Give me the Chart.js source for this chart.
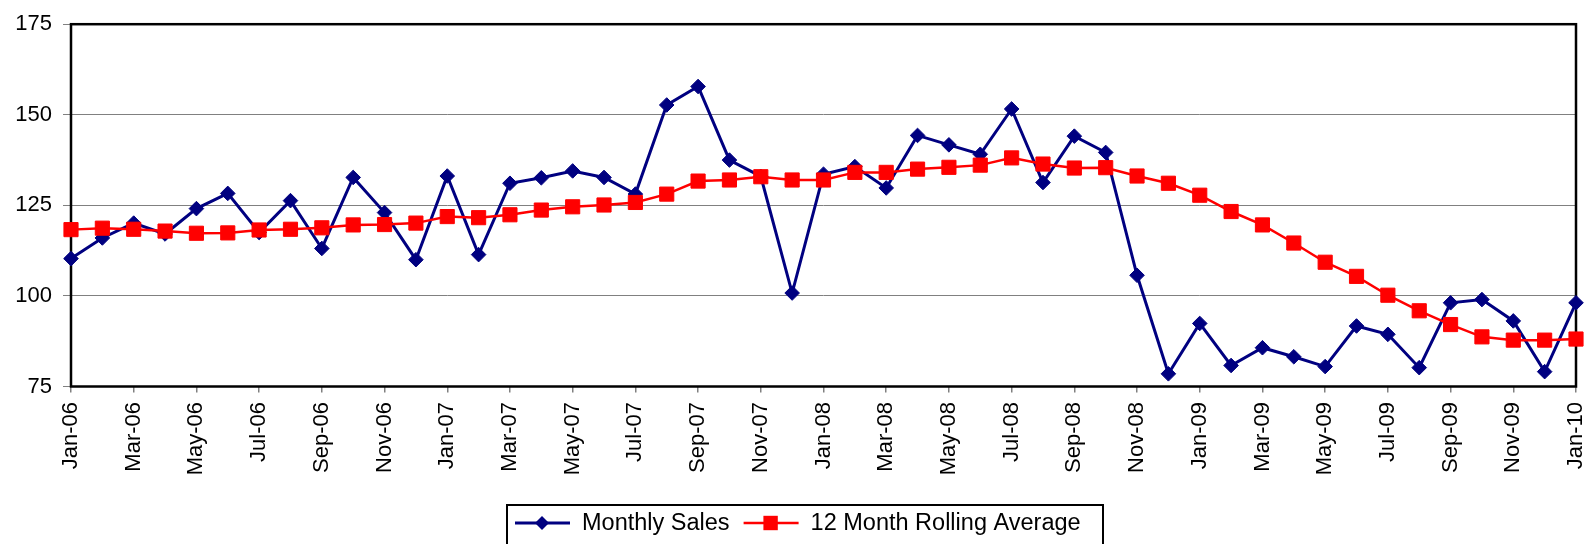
<!DOCTYPE html>
<html>
<head>
<meta charset="utf-8">
<script src="https://cdn.jsdelivr.net/npm/chart.js@4.4.0/dist/chart.umd.min.js"></script>
<style>
  html, body { margin: 0; padding: 0; background: #fff; }
  #wrap { width: 1587px; height: 544px; position: relative; }
</style>
</head>
<body>
<div id="wrap"><canvas id="salesChart"></canvas></div>
<script>
const months = [
    'Jan-06', 'Feb-06', 'Mar-06', 'Apr-06', 'May-06', 'Jun-06', 'Jul-06', 'Aug-06', 'Sep-06', 'Oct-06', 'Nov-06', 'Dec-06',
    'Jan-07', 'Feb-07', 'Mar-07', 'Apr-07', 'May-07', 'Jun-07', 'Jul-07', 'Aug-07', 'Sep-07', 'Oct-07', 'Nov-07', 'Dec-07',
    'Jan-08', 'Feb-08', 'Mar-08', 'Apr-08', 'May-08', 'Jun-08', 'Jul-08', 'Aug-08', 'Sep-08', 'Oct-08', 'Nov-08', 'Dec-08',
    'Jan-09', 'Feb-09', 'Mar-09', 'Apr-09', 'May-09', 'Jun-09', 'Jul-09', 'Aug-09', 'Sep-09', 'Oct-09', 'Nov-09', 'Dec-09',
    'Jan-10'
];

const monthlySales = [
    110.3, 116.0, 120.1, 117.1, 124.1, 128.3, 117.5, 126.3, 113.1, 132.7, 123.0, 110.0,
    133.1, 111.4, 131.1, 132.6, 134.5, 132.7, 128.1, 152.7, 157.8, 137.5, 133.0, 100.8,
    133.6, 135.7, 129.8, 144.3, 141.7, 139.1, 151.6, 131.3, 144.1, 139.6, 105.7, 78.5,
    92.4, 80.8, 85.7, 83.2, 80.5, 91.7, 89.4, 80.2, 98.1, 99.0, 93.1, 79.1,
    98.1
];

const rollingAverage = [
    118.3, 118.7, 118.4, 117.9, 117.3, 117.4, 118.2, 118.4, 118.8, 119.6, 119.7, 120.1,
    121.9, 121.6, 122.4, 123.7, 124.6, 125.1, 125.8, 128.1, 131.7, 132.0, 132.9, 132.0,
    132.0, 134.1, 134.1, 135.0, 135.5, 136.1, 138.1, 136.4, 135.3, 135.4, 133.1, 131.1,
    127.8, 123.3, 119.6, 114.6, 109.3, 105.4, 100.2, 95.9, 92.1, 88.7, 87.8, 87.8,
    88.1
];

const yTicks = [75, 100, 125, 150, 175];

const FONT = "'Liberation Sans', Arial, sans-serif";

// black frame round the plot area, drawn under the lines
const framePlugin = {
    id: 'frame',
    beforeDatasetsDraw(chart) {
        const { ctx, chartArea: a } = chart;
        ctx.save();
        ctx.strokeStyle = '#000';
        ctx.lineWidth = 2.5;
        ctx.strokeRect(a.left, a.top, a.right - a.left, a.bottom - a.top);
        ctx.restore();
    }
};

// Excel style legend: boxed, line sample with marker
const boxLegendPlugin = {
    id: 'boxLegend',
    afterDraw(chart) {
        const ctx = chart.ctx;
        const box = { left: 507, top: 505, right: 1103, bottom: 550 };
        const midY = 523;
        ctx.save();
        ctx.strokeStyle = '#000';
        ctx.lineWidth = 2;
        ctx.strokeRect(box.left, box.top, box.right - box.left, box.bottom - box.top);

        ctx.font = '23.5px ' + FONT;
        ctx.textBaseline = 'middle';
        ctx.textAlign = 'left';
        let x = box.left + 8;
        chart.data.datasets.forEach(ds => {
            const cx = x + 27;
            ctx.strokeStyle = ds.borderColor;
            ctx.lineWidth = ds.borderWidth;
            ctx.beginPath();
            ctx.moveTo(x, midY);
            ctx.lineTo(x + 55, midY);
            ctx.stroke();

            ctx.fillStyle = ds.pointBackgroundColor;
            ctx.beginPath();
            if (ds.pointStyle === 'rectRot') {
                const r = 7;
                ctx.moveTo(cx, midY - r);
                ctx.lineTo(cx + r, midY);
                ctx.lineTo(cx, midY + r);
                ctx.lineTo(cx - r, midY);
                ctx.closePath();
            } else {
                const s = 7.2;
                ctx.rect(cx - s, midY - s, 2 * s, 2 * s);
            }
            ctx.fill();

            ctx.fillStyle = '#000';
            ctx.fillText(ds.label, x + 67, midY + 1);
            x += 67 + ctx.measureText(ds.label).width + 14;
        });
        ctx.restore();
    }
};

new Chart(document.getElementById('salesChart'), {
    type: 'line',
    data: {
        labels: months,
        datasets: [{
            label: 'Monthly Sales',
            data: monthlySales,
            borderColor: '#000080',
            backgroundColor: '#000080',
            pointBackgroundColor: '#000080',
            pointBorderColor: '#000080',
            borderWidth: 3,
            pointStyle: 'rectRot',
            pointRadius: 7.3,
            pointBorderWidth: 1,
            tension: 0,
            clip: false,
            order: 1
        }, {
            label: '12 Month Rolling Average',
            data: rollingAverage,
            borderColor: '#ff0000',
            backgroundColor: '#ff0000',
            pointBackgroundColor: '#ff0000',
            pointBorderColor: '#ff0000',
            borderWidth: 2.5,
            pointStyle: 'rect',
            pointRadius: 10,
            pointBorderWidth: 1,
            tension: 0,
            clip: false,
            order: 0
        }]
    },
    options: {
        responsive: true,
        maintainAspectRatio: false,
        animation: false,
        events: [],
        layout: {
            padding: { top: 22.5, right: 10, bottom: 0, left: 0 }
        },
        plugins: {
            legend: { display: false },
            tooltip: { enabled: false }
        },
        scales: {
            x: {
                offset: false,
                border: { display: false },
                grid: {
                    drawOnChartArea: false,
                    drawTicks: true,
                    tickLength: 6,
                    lineWidth: 1.5,
                    color: ctx => ctx.index % 2 === 0 ? '#808080' : 'rgba(0,0,0,0)'
                },
                ticks: {
                    autoSkip: false,
                    minRotation: 90,
                    maxRotation: 90,
                    padding: 9.5,
                    color: '#000',
                    font: { family: FONT, size: 22 },
                    callback: (value, index) => index % 2 === 0 ? months[index] : ''
                },
                afterFit: scale => {
                    scale.height = 157.5;
                    scale.paddingLeft = 0;
                    scale.paddingRight = 0;
                }
            },
            y: {
                min: 75,
                max: 175,
                afterBuildTicks: scale => {
                    scale.ticks = yTicks.map(v => ({ value: v }));
                },
                border: { display: false },
                grid: {
                    color: '#808080',
                    lineWidth: 1,
                    tickLength: 8
                },
                ticks: {
                    padding: 11,
                    color: '#000',
                    font: { family: FONT, size: 22 }
                },
                afterFit: scale => {
                    scale.width = 71;
                }
            }
        }
    },
    plugins: [framePlugin, boxLegendPlugin]
});
</script>
</body>
</html>
